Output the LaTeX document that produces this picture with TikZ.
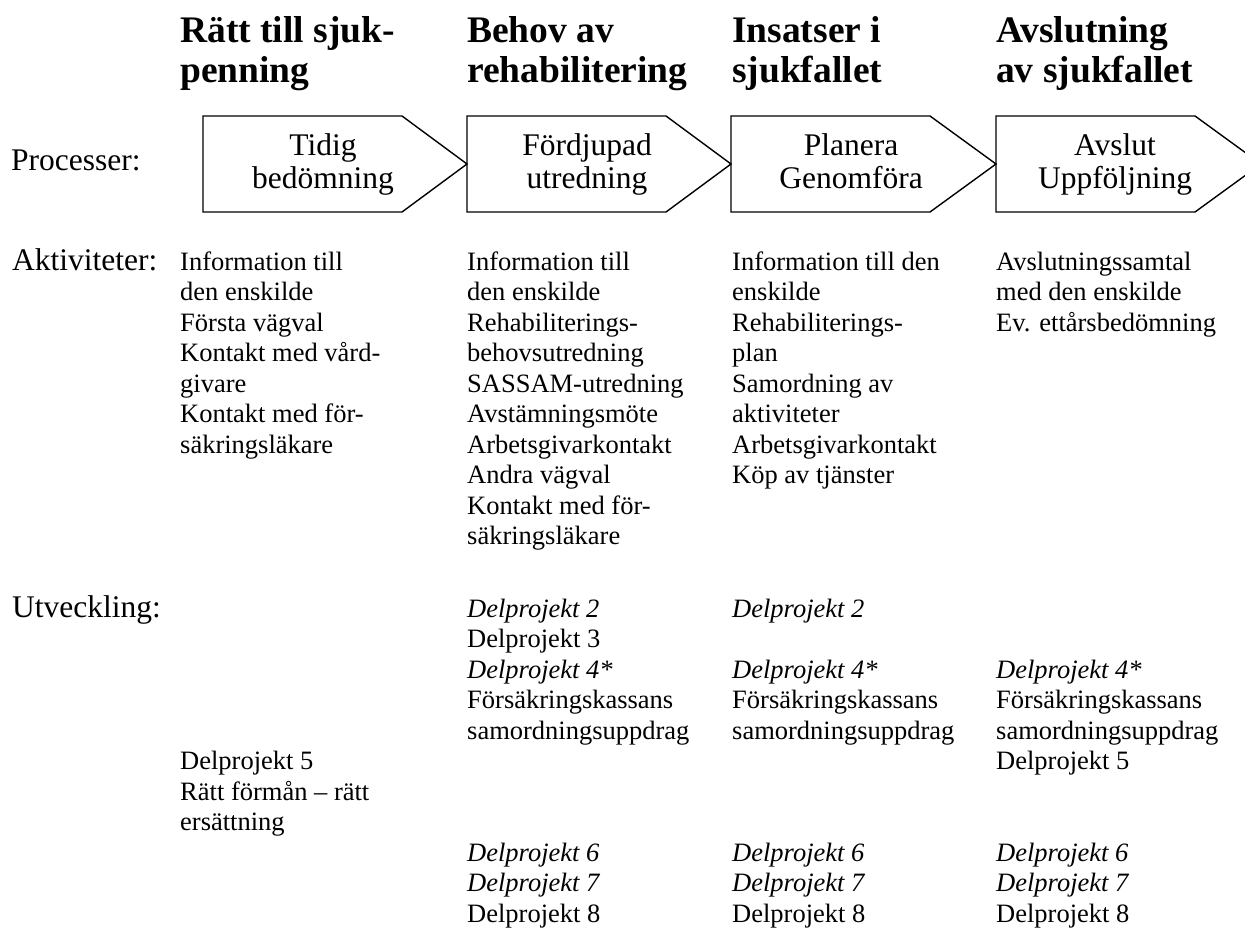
\documentclass[tikz,border=0pt]{standalone}
\usepackage{fontspec}
\setmainfont{Liberation Serif}
\tikzset{
  lbl/.style={anchor=base west, inner sep=0pt, font=\fontsize{31.5pt}{33pt}\selectfont},
  body/.style={anchor=base west, inner sep=0pt, font=\fontsize{26.5pt}{30.5pt}\selectfont},
  ttl/.style={anchor=base west, inner sep=0pt, font=\fontsize{37.5pt}{40.5pt}\selectfont\bfseries},
  proc/.style={draw, line width=1.4pt, line join=miter},
  ptext/.style={anchor=base, inner sep=0pt, font=\fontsize{31.5pt}{33pt}\selectfont},
}
\newcommand\colL[1]{\begin{tabular}[t]{@{}l@{}}#1\end{tabular}}
\newcommand\colC[1]{\begin{tabular}[t]{@{}c@{}}#1\end{tabular}}
\begin{document}
\begin{tikzpicture}[x=1pt,y=-1pt]
\useasboundingbox (0,0) rectangle (1245,930);
\clip (0,0) rectangle (1245,930);

% titles
\node[ttl] (t1) at (180,42) {\colL{Rätt till sjuk-\\penning}};
\node[ttl] (t2) at (467,42) {\colL{Behov av\\rehabilitering}};
\node[ttl] (t3) at (732,42) {\colL{Insatser i\\sjukfallet}};
\node[ttl] (t4) at (996,42) {\colL{Avslutning\\av sjukfallet}};

% row labels
\node[lbl] (lp) at (11,170) {Processer:};
\node[lbl] (la) at (12,270) {Aktiviteter:};
\node[lbl] (lu) at (12,617) {Utveckling:};

% process arrows
\draw[proc] (203,116) -- (402,116) -- (467,164) -- (402,212) -- (203,212) -- cycle;
\draw[proc] (467,116) -- (666,116) -- (731,164) -- (666,212) -- (467,212) -- cycle;
\draw[proc] (731,116) -- (930,116) -- (996,164) -- (930,212) -- (731,212) -- cycle;
\draw[proc] (996,116) -- (1195,116) -- (1261,164) -- (1195,212) -- (996,212) -- cycle;
\node[ptext] (p1) at (323,155) {\colC{Tidig\\bedömning}};
\node[ptext] (p2) at (587,155) {\colC{Fördjupad\\utredning}};
\node[ptext] (p3) at (851,155) {\colC{Planera\\Genomföra}};
\node[ptext] (p4) at (1115,155) {\colC{Avslut\\Uppföljning}};

% activities
\node[body] (a1) at (180,270) {\colL{Information till\\den enskilde\\Första vägval\\Kontakt med vård-\\givare\\Kontakt med för-\\säkringsläkare}};
\node[body] (a2) at (467,270) {\colL{Information till\\den enskilde\\Rehabiliterings-\\behovsutredning\\SASSAM-utredning\\Avstämningsmöte\\Arbetsgivarkontakt\\Andra vägval\\Kontakt med för-\\säkringsläkare}};
\node[body] (a3) at (732,270) {\colL{Information till den\\enskilde\\Rehabiliterings-\\plan\\Samordning av\\aktiviteter\\Arbetsgivarkontakt\\Köp av tjänster}};
\node[body] (a4) at (996,270) {\colL{Avslutningssamtal\\med den enskilde\\Ev. ettårsbedömning}};

% development
\node[body] (u1) at (180,769.5) {\colL{Delprojekt 5\\Rätt förmån – rätt\\ersättning}};
\node[body] (u2a) at (467,617) {\colL{\textit{Delprojekt 2}\\Delprojekt 3\\\textit{Delprojekt 4*}\\Försäkringskassans\\samordningsuppdrag}};
\node[body] (u3a) at (732,617) {\colL{\textit{Delprojekt 2}\\ \\\textit{Delprojekt 4*}\\Försäkringskassans\\samordningsuppdrag}};
\node[body] (u4a) at (996,678) {\colL{\textit{Delprojekt 4*}\\Försäkringskassans\\samordningsuppdrag\\Delprojekt 5}};
\node[body] (u2b) at (467,861) {\colL{\textit{Delprojekt 6}\\\textit{Delprojekt 7}\\Delprojekt 8}};
\node[body] (u3b) at (732,861) {\colL{\textit{Delprojekt 6}\\\textit{Delprojekt 7}\\Delprojekt 8}};
\node[body] (u4b) at (996,861) {\colL{\textit{Delprojekt 6}\\\textit{Delprojekt 7}\\Delprojekt 8}};
\end{tikzpicture}
\end{document}
